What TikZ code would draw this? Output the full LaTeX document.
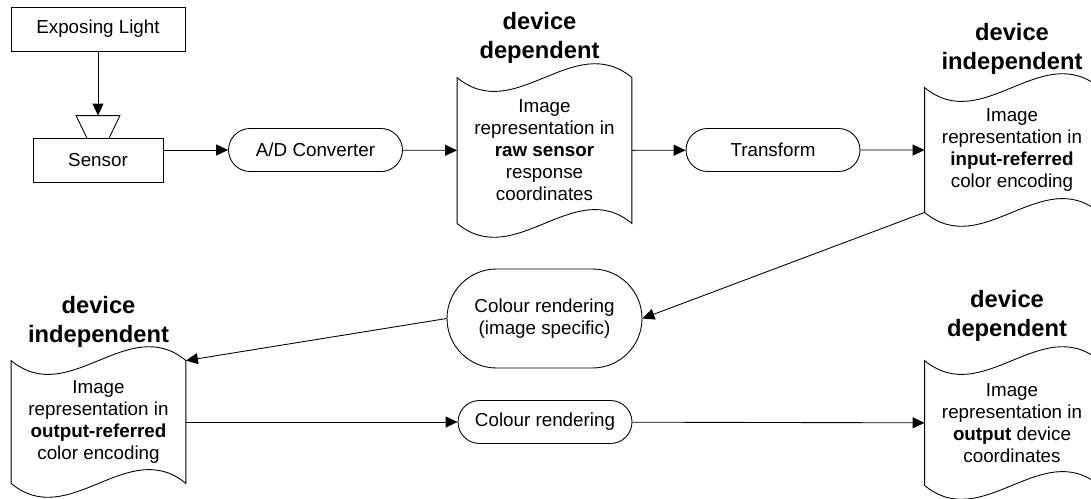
\documentclass[tikz,border=0pt]{standalone}
\usepackage{fontspec}
\setmainfont{Liberation Sans}
\usepackage{tikz}
\usetikzlibrary{arrows.meta}
\usetikzlibrary{shapes.misc}
\usetikzlibrary{positioning}
\usetikzlibrary{calc}

\newcommand{\txtsize}{\fontsize{10.7}{12.5}\selectfont}

\tikzset{
  arr/.style={-{Triangle[length=0.24cm,width=0.22cm]}},
  box/.style={draw, minimum height=0.88cm, inner sep=0pt, font=\txtsize},
  proc/.style={draw, rounded rectangle, minimum width=3.48cm, minimum height=0.86cm, inner sep=0pt, align=center, font=\txtsize},
  tape/.style={minimum width=3.48cm, inner sep=0pt, align=center, font=\txtsize},
  devlabel/.style={inner sep=0pt, align=center, font=\fontsize{13.5}{16.2}\selectfont\bfseries}
}

\newcommand{\tapeoutline}[1]{%
  \draw (#1.north west) .. controls +(58,48) and +(-58,-48) .. (#1.north east)
    -- (#1.south east) .. controls +(-58,-48) and +(58,48) .. (#1.south west) -- cycle;}

\begin{document}
\begin{tikzpicture}[x=0.02cm, y=-0.02cm, line width=0.5pt]
    \useasboundingbox (0,0) rectangle (1091,498);

    \node[box, minimum width=3.48cm] (light) at (98,29) {Exposing Light};
    \node[minimum width=0.86cm, minimum height=0.44cm, inner sep=0pt] (lens) at (98,127) {};
    \draw (lens.north west) -- (lens.north east) -- ($(lens.south east)+(-11,0)$) -- ($(lens.south west)+(11,0)$) -- cycle;
    \node[box, minimum width=2.6cm] (sensor) at (98,160) {Sensor};

    \node[proc] (ad) at (315.5,150) {A/D Converter};
    \node[tape, minimum height=2.9cm] (raw) at (544.5,150.5) {Image\\representation in\\\textbf{raw sensor}\\response\\coordinates};
    \node[proc] (trans) at (773,150) {Transform};
    \node[tape, minimum height=2.48cm] (inref) at (1012,150) {Image\\representation in\\\textbf{input-referred}\\color encoding};

    \node[proc, minimum width=3.9cm, minimum height=1.98cm] (cr1) at (544.5,318.5) {Colour rendering\\(image specific)};

    \node[tape, minimum height=2.44cm] (outref) at (98.5,422) {Image\\representation in\\\textbf{output-referred}\\color encoding};
    \node[proc] (cr2) at (545,422) {Colour rendering};
    \node[tape, minimum height=2.48cm] (outdev) at (1012,423) {Image\\representation in\\\textbf{output} device\\coordinates};

    \tapeoutline{raw}
    \tapeoutline{inref}
    \tapeoutline{outref}
    \tapeoutline{outdev}

    \node[devlabel, above=0.28cm of raw.north, xshift=-0.1cm] (rawlbl) {device\\dependent};
    \node[devlabel, above=0.26cm of inref.north] (inreflbl) {device\\independent};
    \node[devlabel, above=0.26cm of outref.north] (outreflbl) {device\\independent};
    \node[devlabel, above=0.38cm of outdev.north, xshift=-0.1cm] (outdevlbl) {device\\dependent};

    \draw[arr] (light) -- (lens);
    \draw[arr] (sensor.east |- ad) -- (ad);
    \draw[arr] (ad) -- (raw);
    \draw[arr] (raw) -- (trans);
    \draw[arr] (trans) -- (inref);
    \draw[arr] (inref.south west) -- (cr1.east);
    \draw[arr] (cr1.west) -- (outref.north east);
    \draw[arr] (outref) -- (cr2);
    \draw[arr] (cr2) -- (outdev);
\end{tikzpicture}
\end{document}
